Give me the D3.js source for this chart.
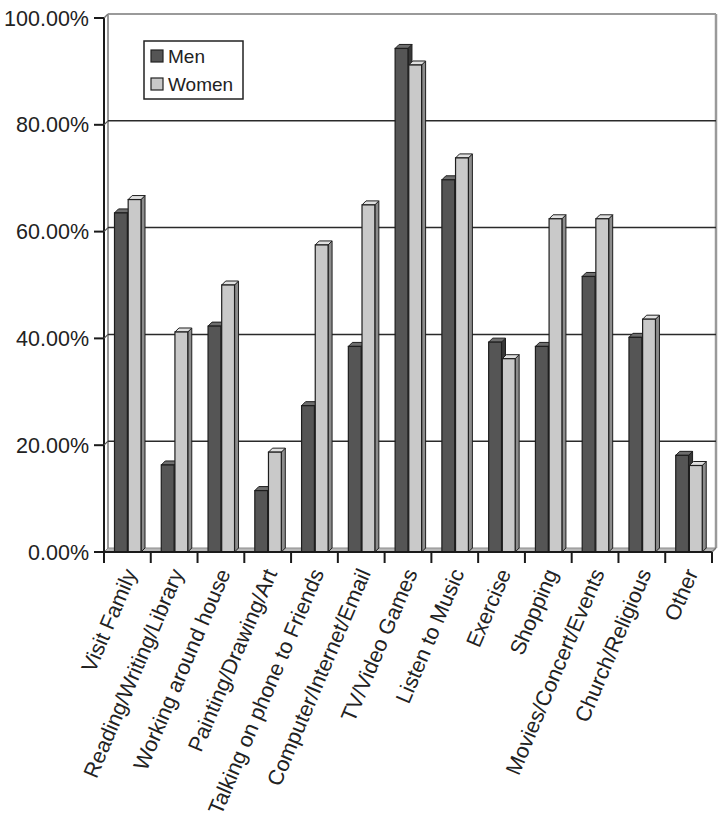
<!DOCTYPE html>
<html>
<head>
<meta charset="utf-8">
<script src="https://cdn.jsdelivr.net/npm/d3@7"></script>
<style>
  html, body { margin: 0; padding: 0; background: #fff; }
  svg { display: block; font-family: "Liberation Sans", Arial, sans-serif; }
</style>
</head>
<body>
<svg id="chart" width="728" height="830"></svg>
<script>
const categories = ["Visit Family", "Reading/Writing/Library", "Working around house",
  "Painting/Drawing/Art", "Talking on phone to Friends", "Computer/Internet/Email",
  "TV/Video Games", "Listen to Music", "Exercise", "Shopping",
  "Movies/Concert/Events", "Church/Religious", "Other"];
const seriesNames = ["Men", "Women"];
const men   = [63.5, 16.3, 42.3, 11.5, 27.4, 38.5, 94.3, 69.7, 39.3, 38.5, 51.6, 40.2, 18.1];
const women = [66.0, 41.2, 50.0, 18.7, 57.5, 65.0, 91.2, 73.8, 36.2, 62.4, 62.4, 43.6, 16.2];
const yTicks = [0, 20, 40, 60, 80, 100];
const yTickLabels = ["0.00%", "20.00%", "40.00%", "60.00%", "80.00%", "100.00%"];

(function () {
const svg = d3.select("#chart");
const pLeft = 104, pRight = 712, pTop = 18, pBottom = 552;
const dx = 4, dy = 4;            // 3D depth offset
const colors = {
  Men:   { front: "#555555", side: "#383838", top: "#6e6e6e" },
  Women: { front: "#c9c9c9", side: "#8c8c8c", top: "#e0e0e0" }
};

const y = d3.scaleLinear().domain([0, 100]).range([pBottom, pTop]);
const x0 = d3.scaleBand().domain(categories).range([pLeft, pRight]).padding(0);
const x1 = d3.scaleBand().domain(seriesNames).range([10.5, 37]).paddingInner(0.06);

// back wall
const wall = svg.append("g");
wall.append("line").attr("x1", pLeft + dx).attr("y1", pTop - dy).attr("x2", pRight + dx).attr("y2", pTop - dy)
  .attr("stroke", "#9a9a9a").attr("stroke-width", 2);
wall.append("line").attr("x1", pLeft + dx).attr("y1", pTop - dy).attr("x2", pLeft + dx).attr("y2", pBottom - dy)
  .attr("stroke", "#9a9a9a").attr("stroke-width", 2);
wall.append("line").attr("x1", pRight + dx).attr("y1", pTop - dy).attr("x2", pRight + dx).attr("y2", pBottom - dy)
  .attr("stroke", "#9a9a9a").attr("stroke-width", 2.5);

// gridlines on back wall
wall.selectAll("line.grid").data(yTicks.filter(d => d > 0 && d < 100)).join("line")
  .attr("class", "grid")
  .attr("x1", pLeft + dx).attr("x2", pRight + dx)
  .attr("y1", d => y(d) - dy).attr("y2", d => y(d) - dy)
  .attr("stroke", "#2a2a2a").attr("stroke-width", 1.5);

// floor
svg.append("path")
  .attr("d", `M${pLeft},${pBottom} L${pRight},${pBottom} L${pRight + dx},${pBottom - dy} L${pLeft + dx},${pBottom - dy} Z`)
  .attr("fill", "#b8b8b8").attr("stroke", "#8a8a8a").attr("stroke-width", 1);

// bars
const data = [];
categories.forEach((c, i) => {
  data.push({ cat: c, s: "Men", v: men[i] });
  data.push({ cat: c, s: "Women", v: women[i] });
});
const bars = svg.append("g").selectAll("g").data(data).join("g");
bars.each(function(d) {
  const g = d3.select(this);
  const xl = x0(d.cat) + x1(d.s), w = x1.bandwidth();
  const yTop = y(d.v), yBot = y(0);
  const col = colors[d.s];
  g.append("path")
    .attr("d", `M${xl + w},${yBot} L${xl + w + dx},${yBot - dy} L${xl + w + dx},${yTop - dy} L${xl + w},${yTop} Z`)
    .attr("fill", col.side).attr("stroke", "#1e1e1e").attr("stroke-width", 1).attr("stroke-linejoin", "round");
  g.append("path")
    .attr("d", `M${xl},${yTop} L${xl + dx},${yTop - dy} L${xl + w + dx},${yTop - dy} L${xl + w},${yTop} Z`)
    .attr("fill", col.top).attr("stroke", "#1e1e1e").attr("stroke-width", 1).attr("stroke-linejoin", "round");
  g.append("rect")
    .attr("x", xl).attr("y", yTop).attr("width", w).attr("height", yBot - yTop)
    .attr("fill", col.front).attr("stroke", "#1e1e1e").attr("stroke-width", 1.2);
});

// front axes
const axisCol = "#1a1a1a";
svg.append("line").attr("x1", pLeft).attr("y1", pTop).attr("x2", pLeft).attr("y2", pBottom)
  .attr("stroke", axisCol).attr("stroke-width", 2);
svg.append("line").attr("x1", pLeft).attr("y1", pBottom).attr("x2", pRight).attr("y2", pBottom)
  .attr("stroke", axisCol).attr("stroke-width", 2);
svg.append("line").attr("x1", pLeft).attr("y1", pTop).attr("x2", pLeft + dx).attr("y2", pTop - dy)
  .attr("stroke", "#777").attr("stroke-width", 1.5);
svg.append("line").attr("x1", pRight).attr("y1", pBottom).attr("x2", pRight + dx).attr("y2", pBottom - dy)
  .attr("stroke", "#777").attr("stroke-width", 1.5);

// y ticks
const yg = svg.append("g");
yg.selectAll("line.t").data(yTicks).join("line").attr("class", "t")
  .attr("x1", pLeft - 10).attr("x2", pLeft).attr("y1", d => y(d)).attr("y2", d => y(d))
  .attr("stroke", axisCol).attr("stroke-width", 2);
yg.selectAll("line.d").data(yTicks.filter(d => d > 0 && d < 100)).join("line").attr("class", "d")
  .attr("x1", pLeft).attr("x2", pLeft + dx).attr("y1", d => y(d)).attr("y2", d => y(d) - dy)
  .attr("stroke", "#555").attr("stroke-width", 1.2);
yg.selectAll("text").data(yTicks).join("text")
  .attr("x", pLeft - 15).attr("y", d => y(d)).attr("dy", "0.35em")
  .attr("text-anchor", "end").attr("font-size", 21.5).attr("fill", "#222")
  .text((d, i) => yTickLabels[i]);

// x ticks
const xBounds = categories.map(c => x0(c)).concat([pRight]);
svg.append("g").selectAll("line").data(xBounds).join("line")
  .attr("x1", d => d).attr("x2", d => d).attr("y1", pBottom).attr("y2", pBottom + 11)
  .attr("stroke", axisCol).attr("stroke-width", 2);

// x labels
svg.append("g").selectAll("text").data(categories).join("text")
  .attr("transform", d => `translate(${x0(d) + x0.bandwidth() / 2 + 3},${pBottom + 18}) rotate(-67)`)
  .attr("dy", "0.35em").attr("text-anchor", "end")
  .attr("font-size", 21.5).attr("fill", "#222")
  .text(d => d);

// legend
const lg = svg.append("g").attr("transform", "translate(144,41)");
lg.append("rect").attr("width", 99).attr("height", 58).attr("fill", "#fff")
  .attr("stroke", "#222").attr("stroke-width", 1.5);
seriesNames.forEach((s, i) => {
  lg.append("rect").attr("x", 7).attr("y", 9 + i * 28).attr("width", 12).attr("height", 12)
    .attr("fill", colors[s].front).attr("stroke", "#222").attr("stroke-width", 1.2);
  lg.append("text").attr("x", 24).attr("y", 15 + i * 28).attr("dy", "0.35em")
    .attr("font-size", 19).attr("fill", "#222").text(s);
});
})();
</script>
</body>
</html>
